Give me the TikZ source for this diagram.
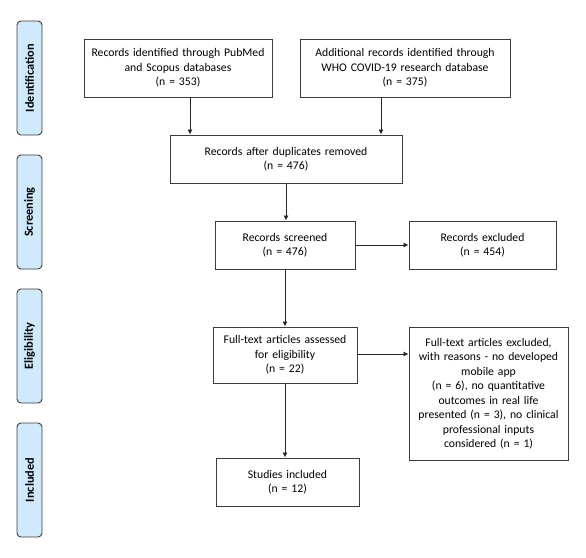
\documentclass[tikz,border=0pt]{standalone}
\usepackage{fontspec}
\setmainfont{Carlito}
\usetikzlibrary{arrows.meta}
\definecolor{lblfill}{RGB}{207,234,252}
\definecolor{edge}{RGB}{60,60,60}
\tikzset{
  box/.style={draw=edge, line width=0.9pt, fill=white, align=center, inner sep=2pt,
    font=\fontsize{11.7}{14.5}\selectfont},
  phase/.style={draw=edge, line width=0.9pt, fill=lblfill, rounded corners=4pt,
    minimum width=114pt, minimum height=25pt, rotate=90,
    font=\fontsize{12.3}{14}\selectfont\bfseries},
  arr/.style={draw=black!85, line width=0.8pt, -{Latex[length=5pt,width=5pt]}}
}
\begin{document}
\begin{tikzpicture}[x=1pt,y=-1pt]
\useasboundingbox (0,0) rectangle (586,557);
% phase labels
\node[phase] (pid) at (29.5,78) {Identification};
\node[phase] (psc) at (29.5,212) {Screening};
\node[phase] (pel) at (29.5,346) {Eligibility};
\node[phase] (pin) at (29.5,480) {Included};
% boxes
\node[box, minimum width=188pt, minimum height=58pt, text width=182pt] (b1) at (178,68)
  {Records identified through PubMed\\and Scopus databases\\(n = 353)};
\node[box, minimum width=210pt, minimum height=58pt, text width=204pt] (b2) at (405,68)
  {Additional records identified through\\WHO COVID-19 research database\\(n = 375)};
\node[box, minimum width=232pt, minimum height=48pt, text width=226pt] (dup) at (286,159)
  {Records after duplicates removed\\(n = 476)};
\node[box, minimum width=140pt, minimum height=48pt, text width=134pt] (scr) at (285,245)
  {Records screened\\(n = 476)};
\node[box, minimum width=147pt, minimum height=48pt, text width=141pt] (exc) at (482.5,245)
  {Records excluded\\(n = 454)};
\node[box, minimum width=144pt, minimum height=56pt, text width=138pt] (ft) at (285,355)
  {Full-text articles assessed\\for eligibility\\(n = 22)};
\node[box, minimum width=159pt, minimum height=133pt, text width=153pt] (rsn) at (488.5,393.5)
  {Full-text articles excluded,\\with reasons - no developed\\mobile app\\(n = 6), no quantitative\\outcomes in real life\\presented (n = 3), no clinical\\professional inputs\\considered (n = 1)};
\node[box, minimum width=143pt, minimum height=48pt, text width=137pt] (st) at (287.5,482)
  {Studies included\\(n = 12)};
% connectors
\draw[arr] ([xshift=12pt]b1.south) -- ([xshift=12pt]b1.south |- dup.north);
\draw[arr] ([xshift=-24pt]b2.south) -- ([xshift=-24pt]b2.south |- dup.north);
\draw[arr] (dup.south) -- (dup.south |- scr.north);
\draw[arr] (scr.east) -- (exc.west);
\draw[arr] (scr.south) -- (ft.north);
\draw[arr] ([yshift=1pt]ft.east) -- ([yshift=1pt]ft.east -| rsn.west);
\draw[arr] (ft.south) -- (ft.south |- st.north);
\end{tikzpicture}
\end{document}
